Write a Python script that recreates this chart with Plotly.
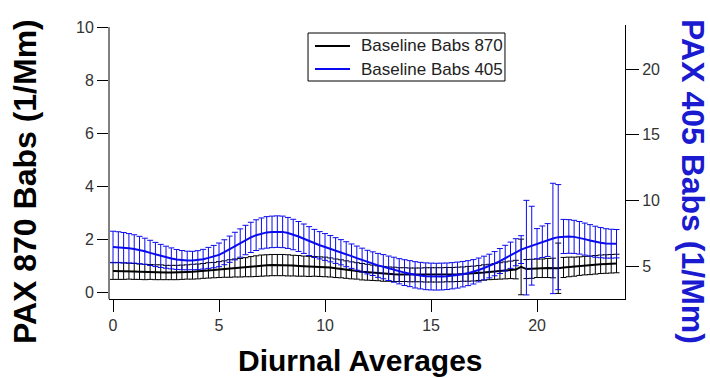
import plotly.graph_objects as go

hours = [i * 0.25 for i in range(96)]

babs405_mean = [
    6.45, 6.43, 6.40, 6.35, 6.30, 6.22, 6.12, 6.00,
    5.88, 5.77, 5.67, 5.58, 5.50, 5.45, 5.42, 5.42,
    5.45, 5.52, 5.62, 5.72, 5.85, 6.05, 6.28, 6.52,
    6.75, 6.98, 7.18, 7.35, 7.48, 7.56, 7.60, 7.62,
    7.60, 7.52, 7.40, 7.25, 7.08, 6.90, 6.72, 6.58,
    6.45, 6.32, 6.18, 6.05, 5.90, 5.75, 5.60, 5.45,
    5.30, 5.18, 5.05, 4.95, 4.83, 4.72, 4.60, 4.50,
    4.42, 4.33, 4.27, 4.22, 4.20, 4.19, 4.20, 4.22,
    4.26, 4.31, 4.38, 4.46, 4.56, 4.70, 4.85, 5.00,
    5.18, 5.38, 5.60, 5.82, 6.05, 6.25, 6.40, 6.55,
    6.70, 6.85, 6.98, 7.10, 7.20, 7.25, 7.25, 7.22,
    7.15, 7.05, 6.95, 6.85, 6.78, 6.72, 6.70, 6.70,
]
babs405_err = [
    1.20, 1.18, 1.15, 1.12, 1.08, 1.04, 1.00, 0.96,
    0.92, 0.88, 0.84, 0.80, 0.76, 0.73, 0.71, 0.70,
    0.72, 0.75, 0.80, 0.85, 0.90, 0.95, 1.00, 1.05,
    1.08, 1.12, 1.15, 1.17, 1.18, 1.20, 1.20, 1.20,
    1.20, 1.18, 1.16, 1.14, 1.12, 1.10, 1.07, 1.04,
    1.02, 1.00, 0.98, 0.96, 0.95, 0.93, 0.92, 0.91,
    0.90, 0.90, 0.91, 0.92, 0.93, 0.95, 0.96, 0.98,
    0.99, 1.00, 1.01, 1.02, 1.02, 1.02, 1.02, 1.01,
    1.00, 0.99, 0.97, 0.95, 0.93, 0.91, 0.90, 0.90,
    0.92, 0.95, 0.98, 1.00, 1.03, 1.06, 3.60, 3.00,
    1.15, 1.20, 1.25, 4.20, 4.00, 1.30, 1.28, 1.26,
    1.24, 1.22, 1.20, 1.18, 1.15, 1.12, 1.10, 1.08,
]
babs870_mean = [
    0.80, 0.80, 0.79, 0.79, 0.78, 0.77, 0.76, 0.76,
    0.75, 0.75, 0.74, 0.74, 0.74, 0.75, 0.76, 0.77,
    0.78, 0.80, 0.82, 0.83, 0.85, 0.87, 0.89, 0.91,
    0.92, 0.94, 0.96, 0.98, 1.00, 1.01, 1.02, 1.02,
    1.02, 1.01, 1.00, 0.99, 0.98, 0.97, 0.97, 0.96,
    0.95, 0.93, 0.90, 0.88, 0.85, 0.82, 0.80, 0.77,
    0.75, 0.73, 0.71, 0.69, 0.68, 0.67, 0.66, 0.66,
    0.65, 0.65, 0.65, 0.65, 0.65, 0.65, 0.65, 0.66,
    0.66, 0.67, 0.68, 0.69, 0.70, 0.72, 0.74, 0.76,
    0.78, 0.80, 0.82, 0.84, 0.85, 0.95, 0.87, 0.88,
    0.90, 0.90, 0.91, 0.91, 0.90, 0.93, 0.95, 0.96,
    0.98, 1.00, 1.01, 1.03, 1.05, 1.06, 1.07, 1.08,
]
babs870_err = [
    0.32, 0.32, 0.31, 0.30, 0.30, 0.29, 0.29, 0.28,
    0.28, 0.28, 0.27, 0.27, 0.27, 0.27, 0.27, 0.28,
    0.28, 0.28, 0.29, 0.29, 0.30, 0.31, 0.33, 0.34,
    0.35, 0.36, 0.38, 0.39, 0.40, 0.40, 0.40, 0.40,
    0.40, 0.40, 0.39, 0.39, 0.38, 0.38, 0.37, 0.37,
    0.37, 0.36, 0.35, 0.34, 0.33, 0.32, 0.31, 0.31,
    0.30, 0.29, 0.28, 0.28, 0.27, 0.27, 0.26, 0.26,
    0.26, 0.26, 0.26, 0.27, 0.27, 0.27, 0.27, 0.27,
    0.27, 0.27, 0.27, 0.28, 0.28, 0.28, 0.29, 0.29,
    0.30, 0.31, 0.32, 0.33, 0.35, 1.05, 0.36, 0.36,
    0.35, 0.35, 0.36, 0.37, 0.95, 0.38, 0.37, 0.36,
    0.35, 0.35, 0.35, 0.35, 0.35, 0.35, 0.35, 0.35,
]

left_ticks = [0, 2, 4, 6, 8, 10]
right_ticks = [5, 10, 15, 20]
x_ticks = [0, 5, 10, 15, 20]
series_names = ["Baseline Babs 870", "Baseline Babs 405"]

BLUE = "#0a0af0"
FONT = "Liberation Sans, Arial, sans-serif"

fig = go.Figure()
fig.add_trace(go.Scatter(
    x=hours, y=babs870_mean, mode="lines", name=series_names[0],
    line=dict(color="black", width=2),
    error_y=dict(type="data", array=babs870_err, visible=True,
                 color="black", thickness=1, width=3),
    yaxis="y", showlegend=False,
))
fig.add_trace(go.Scatter(
    x=hours, y=babs405_mean, mode="lines", name=series_names[1],
    line=dict(color=BLUE, width=2),
    error_y=dict(type="data", array=babs405_err, visible=True,
                 color=BLUE, thickness=1, width=3),
    yaxis="y2", showlegend=False,
))

tickfont = dict(family=FONT, size=16, color="#333333")

# legend drawn as a boxed key (paper coordinates)
leg_x0, leg_x1, leg_y0, leg_y1 = 0.3857, 0.7674, 0.7956, 0.9708
leg_rows = [0.9234, 0.8394]
leg_colors = ["black", BLUE]
shapes = [
    dict(type="line", xref="paper", yref="y", x0=0, x1=0,
         y0=-0.26, y1=10, line=dict(color="black", width=1)),
    dict(type="rect", xref="paper", yref="paper", x0=leg_x0, x1=leg_x1,
         y0=leg_y0, y1=leg_y1, line=dict(color="black", width=1),
         fillcolor="white", layer="above"),
]
annotations = []
for name, yy, col in zip(series_names, leg_rows, leg_colors):
    shapes.append(dict(type="line", xref="paper", yref="paper",
                       x0=0.3992, x1=0.4671, y0=yy, y1=yy,
                       line=dict(color=col, width=2), layer="above"))
    annotations.append(dict(text=name, xref="paper", yref="paper",
                            x=0.4845, y=yy, xanchor="left", yanchor="middle",
                            showarrow=False,
                            font=dict(family=FONT, size=17, color="#222222")))

annotations += [
    dict(text="<b>PAX 870 Babs (1/Mm)</b>", xref="paper", yref="paper",
         x=-0.163, y=0.43, textangle=-90, showarrow=False,
         xanchor="center", yanchor="middle",
         font=dict(family=FONT, size=32, color="black")),
    dict(text="<b>PAX 405 Babs (1/Mm)</b>", xref="paper", yref="paper",
         x=1.132, y=0.43, textangle=90, showarrow=False,
         xanchor="center", yanchor="middle",
         font=dict(family=FONT, size=32, color="#1a1ad0")),
    dict(text="<b>Diurnal Averages</b>", xref="paper", yref="paper",
         x=0.488, y=-0.223, showarrow=False,
         xanchor="center", yanchor="middle",
         font=dict(family=FONT, size=30, color="black")),
]

fig.update_layout(
    width=710, height=378,
    margin=dict(l=109, r=85, t=25, b=79),
    paper_bgcolor="white", plot_bgcolor="white",
    font=dict(family=FONT, color="black"),
    xaxis=dict(
        range=[-0.19, 24.15], tickvals=x_ticks, ticks="outside", ticklen=12,
        tickcolor="black", showline=True, linecolor="black", linewidth=1,
        showgrid=False, zeroline=False, tickfont=tickfont,
    ),
    yaxis=dict(
        range=[-0.26, 10.08], tickvals=left_ticks, ticks="outside", ticklen=11,
        tickcolor="black", showline=False, showgrid=False, zeroline=False,
        tickfont=tickfont,
    ),
    yaxis2=dict(
        range=[2.49, 23.35], tickvals=right_ticks, ticks="outside", ticklen=13,
        tickcolor="black", showline=True, linecolor="black", linewidth=1,
        showgrid=False, zeroline=False, overlaying="y", side="right",
        tickfont=tickfont,
    ),
    shapes=shapes,
    annotations=annotations,
)

fig.write_html("out.html")
